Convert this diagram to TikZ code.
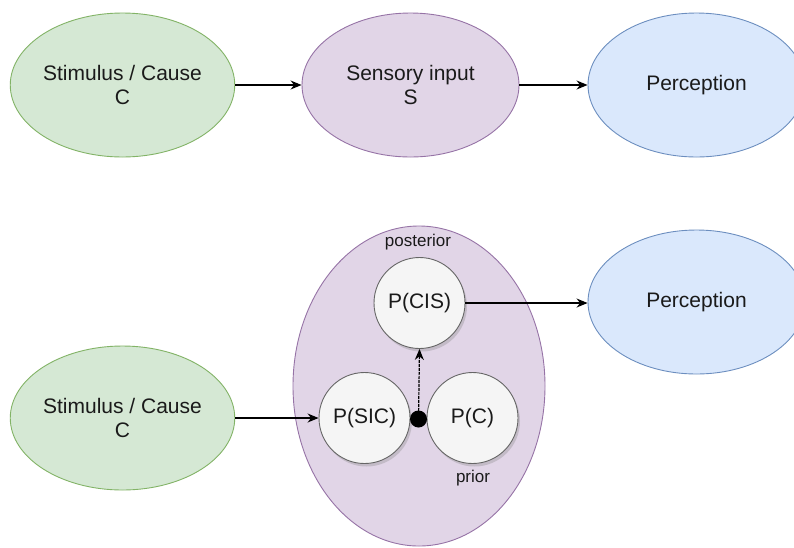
\documentclass[tikz,border=0pt]{standalone}
\usepackage{fontspec}
\setmainfont{Liberation Sans}
\usetikzlibrary{shapes.geometric,arrows.meta,shadows}
\definecolor{gfill}{HTML}{D5E8D4}
\definecolor{gline}{HTML}{82B366}
\definecolor{pfill}{HTML}{E1D5E7}
\definecolor{pline}{HTML}{9673A6}
\definecolor{bfill}{HTML}{DAE8FC}
\definecolor{bline}{HTML}{6C8EBF}
\definecolor{cfill}{HTML}{F5F5F5}
\definecolor{cline}{HTML}{666666}
\definecolor{txt}{HTML}{1A1A1A}
\begin{document}
\begin{tikzpicture}[x=1pt,y=-1pt,
  bigtext/.style={font=\fontsize{21}{24}\selectfont, text=txt, align=center},
  ell/.style={ellipse, inner sep=0pt, minimum width=217pt, minimum height=144pt, line width=0.9pt, bigtext},
  green/.style={ell, fill=gfill, draw=gline},
  purple/.style={ell, fill=pfill, draw=pline},
  blue/.style={ell, fill=bfill, draw=bline},
  prob/.style={circle, inner sep=0pt, minimum size=91pt, fill=cfill, draw=cline, line width=0.9pt, bigtext,
    drop shadow={shadow xshift=2pt, shadow yshift=-3pt, opacity=0.3, fill=gray}},
  small/.style={font=\fontsize{17}{20}\selectfont, text=txt},
  conn/.style={line width=1.2pt, -{Stealth[length=11pt,width=9pt]}}
]
\useasboundingbox (0,0) rectangle (794,547);
\begin{scope}
\clip (0,0) rectangle (794,547);
% top row
\node[green] (stim1) at (122.5,85) {Stimulus / Cause\\C};
\node[purple] (sens) at (410.5,85) {Sensory input\\S};
\node[blue] (perc1) at (696.5,85) {Perception};
% bottom row
\node[green] (stim2) at (122.5,418) {Stimulus / Cause\\C};
\node[purple, minimum width=252pt, minimum height=320pt] (bayes) at (419,386) {};
\node[blue] (perc2) at (696.5,302) {Perception};
\node[prob] (post) at (419.5,303) {P(CIS)};
\node[prob] (lik) at (364.5,418) {P(SIC)};
\node[prob] (prior) at (472.5,418) {P(C)};
\node[circle, fill=black, inner sep=0pt, minimum size=17pt] (dot) at (418.5,419) {};
\node[small] (postlab) at (418,242) {posterior};
\node[small] (priorlab) at (473,478) {prior};
\end{scope}
\draw[conn] (stim1.east) -- (sens.west);
\draw[conn] (sens.east) -- (perc1.west);
\draw[conn] (stim2.east) -- (lik.west);
\draw[conn] (post.east) -- (post.east -| perc2.west);
\draw[conn, dash pattern=on 3pt off 1pt] (dot.center) -- (post.south);
\end{tikzpicture}
\end{document}
